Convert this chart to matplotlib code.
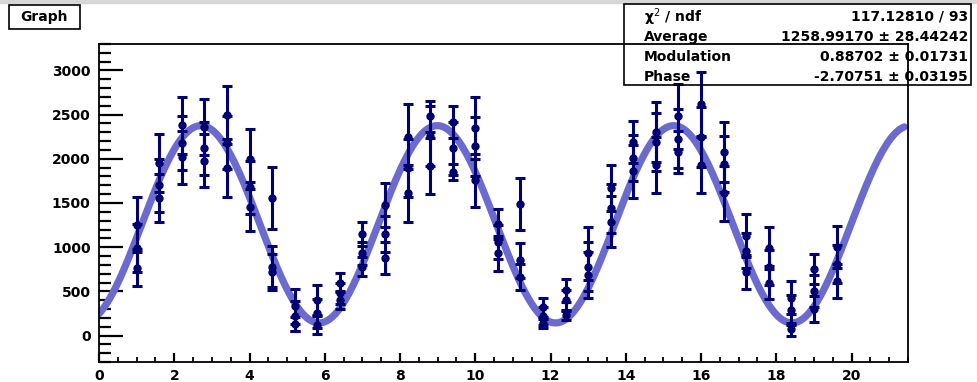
import numpy as np
import matplotlib.pyplot as plt
from matplotlib.patches import Rectangle
from matplotlib.ticker import MultipleLocator

# measurement positions, three points at each
x_pos = [1.0, 1.6, 2.2, 2.8, 3.4, 4.0, 4.6, 5.2, 5.8, 6.4, 7.0, 7.6, 8.2, 8.8, 9.4, 10.0,
         10.6, 11.2, 11.8, 12.4, 13.0, 13.6, 14.2, 14.8, 15.4, 16.0, 16.6, 17.2, 17.8, 18.4, 19.0, 19.6]
y_a = [1255, 1950, 2380, 2360, 2500, 2000, 1560, 330, 400, 600, 1150, 1480, 2250, 2480, 2420, 2350,
       1260, 1490, 320, 510, 930, 1670, 2190, 2300, 2480, 2620, 2080, 1130, 990, 430, 750, 1000]
y_b = [990, 1700, 2180, 2120, 2180, 1680, 780, 220, 250, 480, 930, 1150, 1900, 2260, 2120, 2140,
       1060, 850, 220, 400, 780, 1440, 2010, 2190, 2230, 2250, 1940, 960, 770, 290, 500, 810]
y_c = [768, 1560, 2020, 1980, 1900, 1460, 720, 130, 120, 400, 780, 880, 1610, 1920, 1850, 1760,
       930, 660, 140, 230, 690, 1290, 1860, 1930, 2080, 1930, 1610, 720, 600, 70, 300, 620]
e_a = [310, 330, 320, 320, 330, 340, 350, 200, 170, 110, 140, 250, 370, 180, 180, 350,
       170, 290, 110, 130, 300, 260, 240, 340, 370, 360, 340, 240, 240, 190, 170, 240]
e_b = [270, 300, 310, 300, 300, 300, 230, 170, 160, 120, 130, 200, 330, 340, 300, 330,
       190, 200, 100, 120, 280, 280, 260, 330, 330, 340, 320, 200, 200, 170, 180, 220]
e_c = [210, 270, 300, 300, 330, 280, 200, 80, 100, 100, 110, 180, 320, 320, 90, 300,
       200, 150, 50, 60, 260, 290, 300, 320, 240, 320, 310, 190, 190, 70, 150, 190]

# fit result shown in the stats box
chi2, ndf = 117.12810, 93
average, average_err = 1258.99170, 28.44242
modulation, modulation_err = 0.88702, 0.01731
phase, phase_err = -2.70751, 0.03195

x = np.array(x_pos * 3)
y = np.array(y_a + y_b + y_c)
e = np.array(e_a + e_b + e_c)

fig = plt.figure(figsize=(9.78, 3.82), dpi=100)
fig.patches.append(Rectangle((0, 1 - 3/382), 1, 3/382, transform=fig.transFigure,
                             color='#d6d6d6', zorder=0))

ax = fig.add_axes([99/978, 1 - 362/382, 809/978, 318/382])

xf = np.linspace(0, 21.4, 400)
ax.plot(xf, average*(1 + modulation*np.cos(xf + phase)), color='#6a6acf',
        linewidth=5.2, solid_capstyle='round', zorder=2)
ax.errorbar(x, y, yerr=e, fmt='o', color='#000070', markersize=5,
            elinewidth=2.2, capsize=3.5, capthick=2.2, zorder=3)

ax.set_xlim(0, 21.5)
ax.set_ylim(-300, 3300)
ax.xaxis.set_major_locator(MultipleLocator(2))
ax.xaxis.set_minor_locator(MultipleLocator(0.5))
ax.yaxis.set_major_locator(MultipleLocator(500))
ax.yaxis.set_minor_locator(MultipleLocator(100))
ax.set_yticks([0, 500, 1000, 1500, 2000, 2500, 3000])

ax.tick_params(axis='y', which='major', direction='in', length=17, width=1.6, pad=6)
ax.tick_params(axis='y', which='minor', direction='in', length=8.5, width=1.6)
ax.tick_params(axis='x', which='major', direction='in', length=6.8, width=1.6, pad=5)
ax.tick_params(axis='x', which='minor', direction='in', length=3.4, width=1.3)
for lab in ax.get_xticklabels() + ax.get_yticklabels():
    lab.set_fontweight('bold')
    lab.set_fontsize(10)
for sp in ax.spines.values():
    sp.set_linewidth(1.3)

# title box
fig.patches.append(Rectangle((9/978, 1 - 29/382), 71/978, 24/382, transform=fig.transFigure,
                             fill=False, edgecolor='black', linewidth=1.2, zorder=5))
fig.text(44/978, 1 - 17/382, 'Graph', ha='center', va='center', fontsize=10,
         fontweight='bold', zorder=6)

# stats box
fig.patches.append(Rectangle((624/978, 1 - 85/382), 347/978, 81/382, transform=fig.transFigure,
                             fill=False, edgecolor='black', linewidth=1.2, zorder=5))
rows = [('χ$^{2}$ / ndf', '%.5f / %d' % (chi2, ndf)),
        ('Average', '%.5f ± %.5f' % (average, average_err)),
        ('Modulation', '%.5f ± %.5f' % (modulation, modulation_err)),
        ('Phase', '%.5f ± %.5f' % (phase, phase_err))]
for i, (name, val) in enumerate(rows):
    yy = 1 - (17 + 20*i)/382
    fig.text(644/978, yy, name, ha='left', va='center', fontsize=10, fontweight='bold', zorder=6)
    fig.text(968/978, yy, val, ha='right', va='center', fontsize=10, fontweight='bold', zorder=6)

fig.savefig('out.png', dpi=100)
